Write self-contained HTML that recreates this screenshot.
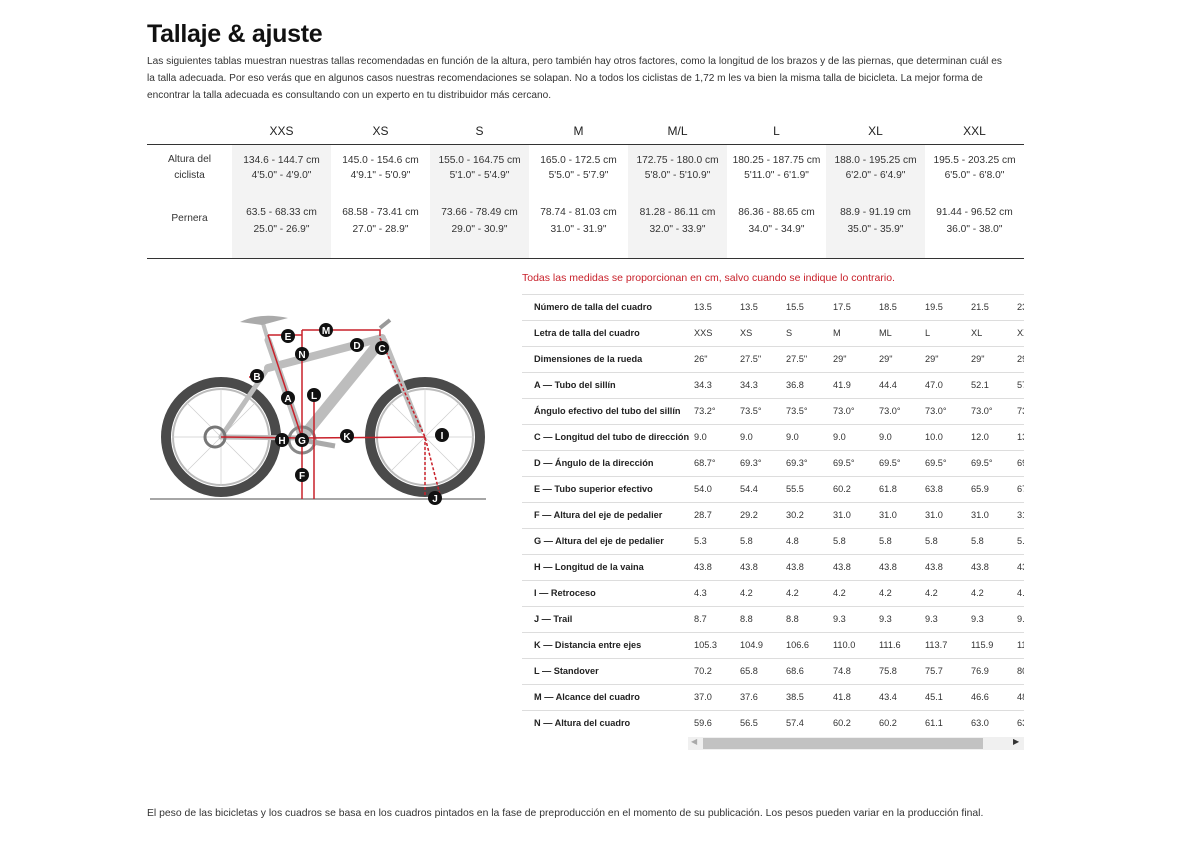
<!DOCTYPE html>
<html><head><meta charset="utf-8"><style>
*{margin:0;padding:0;box-sizing:border-box}
body{width:1203px;height:846px;background:#fff;font-family:"Liberation Sans",sans-serif;color:#222;position:relative;overflow:hidden}
.a{position:absolute;white-space:nowrap}
h1{position:absolute;left:147px;top:20px;font-size:25px;font-weight:bold;color:#111;letter-spacing:-0.3px}
.intro{position:absolute;left:147px;top:53px;white-space:nowrap;font-size:10.15px;line-height:17px;color:#333}
.shade{position:absolute;top:145px;height:113px;width:99px;background:#f3f3f3}
.hd{position:absolute;top:124px;width:99px;text-align:center;font-size:12px;color:#222}
.c{position:absolute;width:99px;text-align:center;font-size:10.2px;line-height:15px;color:#333}
.lab{position:absolute;left:147px;width:85px;text-align:center;font-size:10.2px;line-height:16px;color:#333}
.geo{position:absolute;left:522px;top:294px;width:502px;height:442px;overflow:hidden}
.row{position:absolute;left:0;width:600px;height:26px;border-top:1px solid #ddd;font-size:9.2px;color:#333}
.row span{position:absolute;top:7px}
.row .l{left:12px;font-weight:bold;color:#222}
</style></head><body>
<h1>Tallaje &amp; ajuste</h1>
<div class="intro">Las siguientes tablas muestran nuestras tallas recomendadas en función de la altura, pero también hay otros factores, como la longitud de los brazos y de las piernas, que determinan cuál es<br>la talla adecuada. Por eso verás que en algunos casos nuestras recomendaciones se solapan. No a todos los ciclistas de 1,72 m les va bien la misma talla de bicicleta. La mejor forma de<br>encontrar la talla adecuada es consultando con un experto en tu distribuidor más cercano.</div>

<div class="shade" style="left:232px"></div>
<div class="shade" style="left:430px"></div>
<div class="shade" style="left:628px"></div>
<div class="shade" style="left:826px"></div>
<div class="a" style="left:147px;top:144px;width:877px;height:1px;background:#333"></div>
<div class="a" style="left:147px;top:258px;width:877px;height:1px;background:#333"></div>

<div class="hd" style="left:232px">XXS</div><div class="hd" style="left:331px">XS</div><div class="hd" style="left:430px">S</div><div class="hd" style="left:529px">M</div><div class="hd" style="left:628px">M/L</div><div class="hd" style="left:727px">L</div><div class="hd" style="left:826px">XL</div><div class="hd" style="left:925px">XXL</div>

<div class="lab" style="top:152px">Altura del<br>ciclista</div>
<div class="lab" style="top:211px">Pernera</div>

<div class="c" style="left:232px;top:153px">134.6 - 144.7 cm<br>4'5.0" - 4'9.0"</div>
<div class="c" style="left:331px;top:153px">145.0 - 154.6 cm<br>4'9.1" - 5'0.9"</div>
<div class="c" style="left:430px;top:153px">155.0 - 164.75 cm<br>5'1.0" - 5'4.9"</div>
<div class="c" style="left:529px;top:153px">165.0 - 172.5 cm<br>5'5.0" - 5'7.9"</div>
<div class="c" style="left:628px;top:153px">172.75 - 180.0 cm<br>5'8.0" - 5'10.9"</div>
<div class="c" style="left:727px;top:153px">180.25 - 187.75 cm<br>5'11.0" - 6'1.9"</div>
<div class="c" style="left:826px;top:153px">188.0 - 195.25 cm<br>6'2.0" - 6'4.9"</div>
<div class="c" style="left:925px;top:153px">195.5 - 203.25 cm<br>6'5.0" - 6'8.0"</div>

<div class="c" style="left:232px;top:204px;line-height:17px">63.5 - 68.33 cm<br>25.0" - 26.9"</div>
<div class="c" style="left:331px;top:204px;line-height:17px">68.58 - 73.41 cm<br>27.0" - 28.9"</div>
<div class="c" style="left:430px;top:204px;line-height:17px">73.66 - 78.49 cm<br>29.0" - 30.9"</div>
<div class="c" style="left:529px;top:204px;line-height:17px">78.74 - 81.03 cm<br>31.0" - 31.9"</div>
<div class="c" style="left:628px;top:204px;line-height:17px">81.28 - 86.11 cm<br>32.0" - 33.9"</div>
<div class="c" style="left:727px;top:204px;line-height:17px">86.36 - 88.65 cm<br>34.0" - 34.9"</div>
<div class="c" style="left:826px;top:204px;line-height:17px">88.9 - 91.19 cm<br>35.0" - 35.9"</div>
<div class="c" style="left:925px;top:204px;line-height:17px">91.44 - 96.52 cm<br>36.0" - 38.0"</div>

<div class="a" style="left:522px;top:272px;font-size:10.5px;color:#c8202a">Todas las medidas se proporcionan en cm, salvo cuando se indique lo contrario.</div>

<svg class="a" style="left:150px;top:300px" width="350" height="215" viewBox="0 0 350 215">
<g fill="none">
<circle cx="71" cy="137" r="55" stroke="#4a4a4a" stroke-width="10"/>
<circle cx="71" cy="137" r="48" stroke="#bbb" stroke-width="2"/>
<circle cx="275" cy="137" r="55" stroke="#4a4a4a" stroke-width="10"/>
<circle cx="275" cy="137" r="48" stroke="#bbb" stroke-width="2"/>
<g stroke="#ccc" stroke-width="0.7">
<path d="M71 137L71 88M71 137L120 137M71 137L71 186M71 137L22 137M71 137L106 102M71 137L36 172M71 137L106 172M71 137L36 102"/>
<path d="M275 137L275 88M275 137L324 137M275 137L275 186M275 137L226 137M275 137L310 102M275 137L240 172M275 137L310 172M275 137L240 102"/>
</g>
<g stroke="#bdbdbd" stroke-linecap="round">
<path d="M152 138L230 42" stroke-width="11"/>
<path d="M118 68L232 38" stroke-width="8"/>
<path d="M152 138L118 40" stroke-width="7"/>
<path d="M71 137L118 68" stroke-width="5"/>
<path d="M71 137L152 138" stroke-width="5"/>
<path d="M234 40L270 130" stroke-width="6"/>
<path d="M118 40L112 20" stroke-width="4"/>
</g>
<path d="M90 22Q110 12 138 18L112 25Z" fill="#aaa"/>
<path d="M230 28L240 20" stroke="#999" stroke-width="4"/>
<circle cx="152" cy="140" r="13" stroke="#888" stroke-width="3"/>
<circle cx="65" cy="137" r="10" stroke="#777" stroke-width="3"/>
<path d="M152 140L185 146" stroke="#aaa" stroke-width="5"/>
<line x1="0" y1="199" x2="336" y2="199" stroke="#888" stroke-width="1.5"/>
<g stroke="#c8202a" stroke-width="1.5">
<path d="M71 137L152 138L275 137"/>
<path d="M152 138L118 35"/>
<path d="M118 35L152 35"/>
<path d="M152 30L230 30L230 36"/>
<path d="M152 30V199M164 96V199"/>
<path d="M230 38L275 137L290 195M275 137V195" stroke-dasharray="3 2"/>
<path d="M112 77L98 77" stroke-dasharray="3 2"/>
</g>
</g>
<g font-family="Liberation Sans" font-weight="bold" font-size="10" fill="#fff" text-anchor="middle">
<g fill="#111"><circle cx="138" cy="36" r="7"/><circle cx="176" cy="30" r="7"/><circle cx="207" cy="45" r="7"/><circle cx="232" cy="48" r="7"/><circle cx="152" cy="54" r="7"/><circle cx="107" cy="76" r="7"/><circle cx="138" cy="98" r="7"/><circle cx="164" cy="95" r="7"/><circle cx="132" cy="140" r="7"/><circle cx="152" cy="140" r="7"/><circle cx="197" cy="136" r="7"/><circle cx="292" cy="135" r="7"/><circle cx="152" cy="175" r="7"/><circle cx="285" cy="198" r="7"/></g>
<text x="138" y="40">E</text><text x="176" y="34">M</text><text x="207" y="49">D</text><text x="232" y="52">C</text><text x="152" y="58">N</text><text x="107" y="80">B</text><text x="138" y="102">A</text><text x="164" y="99">L</text><text x="132" y="144">H</text><text x="152" y="144">G</text><text x="197" y="140">K</text><text x="292" y="139">I</text><text x="152" y="179">F</text><text x="285" y="202">J</text>
</g>
</svg>

<div class="geo">
<div class="row" style="top:0"><span class="l">Número de talla del cuadro</span><span style="left:172px">13.5</span><span style="left:218px">13.5</span><span style="left:264px">15.5</span><span style="left:311px">17.5</span><span style="left:357px">18.5</span><span style="left:403px">19.5</span><span style="left:449px">21.5</span><span style="left:495px">23.5</span></div>
<div class="row" style="top:26px"><span class="l">Letra de talla del cuadro</span><span style="left:172px">XXS</span><span style="left:218px">XS</span><span style="left:264px">S</span><span style="left:311px">M</span><span style="left:357px">ML</span><span style="left:403px">L</span><span style="left:449px">XL</span><span style="left:495px">XXL</span></div>
<div class="row" style="top:52px"><span class="l">Dimensiones de la rueda</span><span style="left:172px">26"</span><span style="left:218px">27.5"</span><span style="left:264px">27.5"</span><span style="left:311px">29"</span><span style="left:357px">29"</span><span style="left:403px">29"</span><span style="left:449px">29"</span><span style="left:495px">29"</span></div>
<div class="row" style="top:78px"><span class="l">A — Tubo del sillín</span><span style="left:172px">34.3</span><span style="left:218px">34.3</span><span style="left:264px">36.8</span><span style="left:311px">41.9</span><span style="left:357px">44.4</span><span style="left:403px">47.0</span><span style="left:449px">52.1</span><span style="left:495px">57.2</span></div>
<div class="row" style="top:104px"><span class="l">Ángulo efectivo del tubo del sillín</span><span style="left:172px">73.2°</span><span style="left:218px">73.5°</span><span style="left:264px">73.5°</span><span style="left:311px">73.0°</span><span style="left:357px">73.0°</span><span style="left:403px">73.0°</span><span style="left:449px">73.0°</span><span style="left:495px">73.0°</span></div>
<div class="row" style="top:130px"><span class="l">C — Longitud del tubo de dirección</span><span style="left:172px">9.0</span><span style="left:218px">9.0</span><span style="left:264px">9.0</span><span style="left:311px">9.0</span><span style="left:357px">9.0</span><span style="left:403px">10.0</span><span style="left:449px">12.0</span><span style="left:495px">13.0</span></div>
<div class="row" style="top:156px"><span class="l">D — Ángulo de la dirección</span><span style="left:172px">68.7°</span><span style="left:218px">69.3°</span><span style="left:264px">69.3°</span><span style="left:311px">69.5°</span><span style="left:357px">69.5°</span><span style="left:403px">69.5°</span><span style="left:449px">69.5°</span><span style="left:495px">69.5°</span></div>
<div class="row" style="top:182px"><span class="l">E — Tubo superior efectivo</span><span style="left:172px">54.0</span><span style="left:218px">54.4</span><span style="left:264px">55.5</span><span style="left:311px">60.2</span><span style="left:357px">61.8</span><span style="left:403px">63.8</span><span style="left:449px">65.9</span><span style="left:495px">67.9</span></div>
<div class="row" style="top:208px"><span class="l">F — Altura del eje de pedalier</span><span style="left:172px">28.7</span><span style="left:218px">29.2</span><span style="left:264px">30.2</span><span style="left:311px">31.0</span><span style="left:357px">31.0</span><span style="left:403px">31.0</span><span style="left:449px">31.0</span><span style="left:495px">31.0</span></div>
<div class="row" style="top:234px"><span class="l">G — Altura del eje de pedalier</span><span style="left:172px">5.3</span><span style="left:218px">5.8</span><span style="left:264px">4.8</span><span style="left:311px">5.8</span><span style="left:357px">5.8</span><span style="left:403px">5.8</span><span style="left:449px">5.8</span><span style="left:495px">5.8</span></div>
<div class="row" style="top:260px"><span class="l">H — Longitud de la vaina</span><span style="left:172px">43.8</span><span style="left:218px">43.8</span><span style="left:264px">43.8</span><span style="left:311px">43.8</span><span style="left:357px">43.8</span><span style="left:403px">43.8</span><span style="left:449px">43.8</span><span style="left:495px">43.8</span></div>
<div class="row" style="top:286px"><span class="l">I — Retroceso</span><span style="left:172px">4.3</span><span style="left:218px">4.2</span><span style="left:264px">4.2</span><span style="left:311px">4.2</span><span style="left:357px">4.2</span><span style="left:403px">4.2</span><span style="left:449px">4.2</span><span style="left:495px">4.2</span></div>
<div class="row" style="top:312px"><span class="l">J — Trail</span><span style="left:172px">8.7</span><span style="left:218px">8.8</span><span style="left:264px">8.8</span><span style="left:311px">9.3</span><span style="left:357px">9.3</span><span style="left:403px">9.3</span><span style="left:449px">9.3</span><span style="left:495px">9.3</span></div>
<div class="row" style="top:338px"><span class="l">K — Distancia entre ejes</span><span style="left:172px">105.3</span><span style="left:218px">104.9</span><span style="left:264px">106.6</span><span style="left:311px">110.0</span><span style="left:357px">111.6</span><span style="left:403px">113.7</span><span style="left:449px">115.9</span><span style="left:495px">118.0</span></div>
<div class="row" style="top:364px"><span class="l">L — Standover</span><span style="left:172px">70.2</span><span style="left:218px">65.8</span><span style="left:264px">68.6</span><span style="left:311px">74.8</span><span style="left:357px">75.8</span><span style="left:403px">75.7</span><span style="left:449px">76.9</span><span style="left:495px">80.0</span></div>
<div class="row" style="top:390px"><span class="l">M — Alcance del cuadro</span><span style="left:172px">37.0</span><span style="left:218px">37.6</span><span style="left:264px">38.5</span><span style="left:311px">41.8</span><span style="left:357px">43.4</span><span style="left:403px">45.1</span><span style="left:449px">46.6</span><span style="left:495px">48.0</span></div>
<div class="row" style="top:416px"><span class="l">N — Altura del cuadro</span><span style="left:172px">59.6</span><span style="left:218px">56.5</span><span style="left:264px">57.4</span><span style="left:311px">60.2</span><span style="left:357px">60.2</span><span style="left:403px">61.1</span><span style="left:449px">63.0</span><span style="left:495px">63.9</span></div>
</div>

<div class="a" style="left:688px;top:737px;width:336px;height:13px;background:#f0f0f0"></div>
<div class="a" style="left:703px;top:738px;width:280px;height:11px;background:#c2c2c2"></div>
<div class="a" style="left:691px;top:737px;font-size:8px;color:#aaa">◀</div>
<div class="a" style="left:1013px;top:737px;font-size:8px;color:#333">▶</div>

<div class="a" style="left:147px;top:808px;font-size:10.4px;color:#333">El peso de las bicicletas y los cuadros se basa en los cuadros pintados en la fase de preproducción en el momento de su publicación. Los pesos pueden variar en la producción final.</div>
</body></html>
